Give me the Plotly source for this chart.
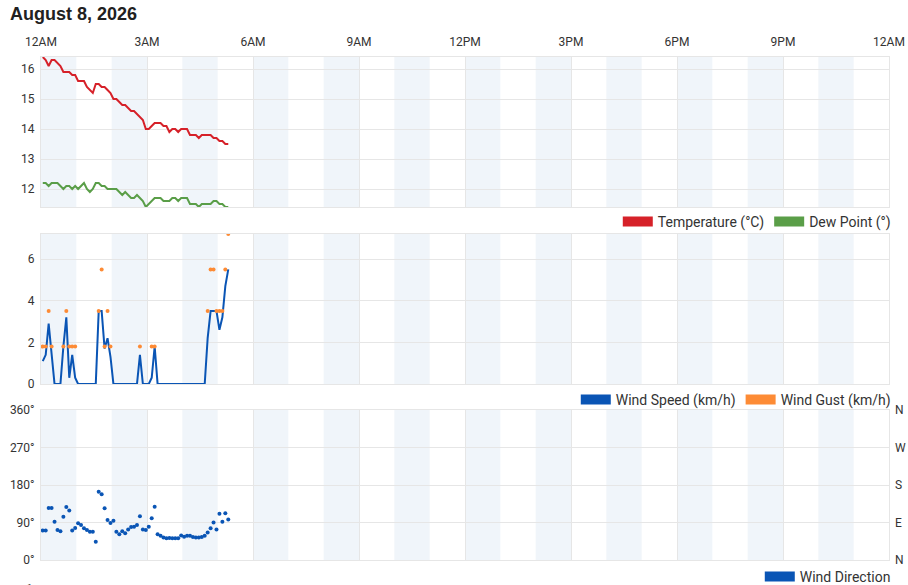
import plotly.graph_objects as go

# one day of station readings, every 5 minutes from 00:03
day = "2026-08-08"
times = ["00:03", "00:08", "00:13", "00:18", "00:23", "00:28", "00:33", "00:38", "00:43", "00:48", "00:53", "00:58",
         "01:03", "01:08", "01:13", "01:18", "01:23", "01:28", "01:33", "01:38", "01:43", "01:48", "01:53", "01:58",
         "02:03", "02:08", "02:13", "02:18", "02:23", "02:28", "02:33", "02:38", "02:43", "02:48", "02:53", "02:58",
         "03:03", "03:08", "03:13", "03:18", "03:23", "03:28", "03:33", "03:38", "03:43", "03:48", "03:53", "03:58",
         "04:03", "04:08", "04:13", "04:18", "04:23", "04:28", "04:33", "04:38", "04:43", "04:48", "04:53", "04:58",
         "05:03", "05:08", "05:13", "05:18"]

temperature = [16.4, 16.3, 16.1, 16.3, 16.3, 16.2, 16.1, 15.9, 15.9, 15.9,
               15.8, 15.8, 15.6, 15.6, 15.6, 15.4, 15.3, 15.2, 15.5, 15.5,
               15.4, 15.4, 15.3, 15.2, 15.0, 15.0, 14.9, 14.8, 14.8, 14.7,
               14.6, 14.6, 14.5, 14.4, 14.3, 14.0, 14.0, 14.1, 14.2, 14.2,
               14.2, 14.1, 14.1, 13.9, 14.0, 14.0, 13.9, 14.0, 14.0, 14.0,
               13.8, 13.8, 13.8, 13.7, 13.8, 13.8, 13.8, 13.8, 13.7, 13.7,
               13.6, 13.6, 13.5, 13.5]
dew_point = [12.2, 12.2, 12.1, 12.2, 12.2, 12.2, 12.1, 12.0, 12.1, 12.1,
             12.0, 12.1, 12.0, 12.1, 12.2, 12.0, 11.9, 12.0, 12.2, 12.2,
             12.1, 12.1, 12.0, 12.0, 12.0, 12.0, 11.9, 11.8, 11.9, 11.8,
             11.7, 11.7, 11.8, 11.7, 11.6, 11.4, 11.5, 11.6, 11.7, 11.7,
             11.7, 11.6, 11.6, 11.6, 11.7, 11.7, 11.6, 11.7, 11.7, 11.7,
             11.5, 11.5, 11.5, 11.4, 11.5, 11.5, 11.5, 11.5, 11.6, 11.6,
             11.5, 11.5, 11.4, 11.4]
wind_speed = [1.1, 1.4, 2.9, 1.5, 0, 0, 0, 1.8, 3.2, 0.3,
              1.4, 0.3, 0, 0, 0, 0, 0, 0, 0, 3.5,
              3.5, 1.7, 2.2, 1.3, 0, 0, 0, 0, 0, 0,
              0, 0, 0, 1.4, 0, 0, 0, 0.3, 1.8, 0,
              0, 0, 0, 0, 0, 0, 0, 0, 0, 0,
              0, 0, 0, 0, 0, 0, 2.2, 3.5, 3.5, 3.5,
              2.6, 3.2, 4.7, 5.5]
wind_gust = [1.8, 1.8, 3.5, 1.8, None, None, None, 1.8, 3.5, 1.8,
             1.8, 1.8, None, None, None, None, None, None, None, 3.5,
             5.5, 1.8, 3.5, 1.8, None, None, None, None, None, None,
             None, None, None, 1.8, None, None, None, 1.8, 1.8, None,
             None, None, None, None, None, None, None, None, None, None,
             None, None, None, None, None, None, 3.5, 5.5, 5.5, 3.5,
             3.5, 3.5, 5.5, 7.2]
wind_dir = [71, 71, 125, 125, 92, 72, 69, 104, 127, 119,
            71, 77, 88, 84, 76, 72, 68, 68, 44, 164,
            158, 124, 96, 89, 94, 68, 62, 69, 64, 73,
            79, 80, 84, 105, 73, 72, 80, 100, 128, 62,
            58, 54, 52, 53, 52, 52, 52, 59, 56, 58,
            58, 55, 54, 54, 55, 58, 66, 76, 90, 73,
            111, 92, 112, 97]

degree_vals = [0, 90, 180, 270, 360]
degree_text = ["0°", "90°", "180°", "270°", "360°"]
compass_text = ["N", "E", "S", "W", "N"]

RED = "#d62129"
GREEN = "#5a9e48"
BLUE = "#0a55b5"
ORANGE = "#fd8b35"
BAND = "#f0f5fa"
GRID = "#e6e6e6"

x = [f"{day} {t}" for t in times]

fig = go.Figure()
fig.add_trace(go.Scatter(x=x, y=temperature, mode="lines", line=dict(color=RED, width=2),
                         name="Temperature (°C)", showlegend=False, xaxis="x", yaxis="y"))
fig.add_trace(go.Scatter(x=x, y=dew_point, mode="lines", line=dict(color=GREEN, width=2),
                         name="Dew Point (°)", showlegend=False, xaxis="x", yaxis="y"))
fig.add_trace(go.Scatter(x=x, y=wind_speed, mode="lines", line=dict(color=BLUE, width=2),
                         name="Wind Speed (km/h)", showlegend=False, xaxis="x2", yaxis="y2"))
fig.add_trace(go.Scatter(x=x, y=wind_gust, mode="markers", marker=dict(color=ORANGE, size=4),
                         name="Wind Gust (km/h)", showlegend=False, xaxis="x2", yaxis="y2"))
fig.add_trace(go.Scatter(x=x, y=wind_dir, mode="markers", marker=dict(color=BLUE, size=4),
                         name="Wind Direction", showlegend=False, xaxis="x3", yaxis="y3"))
# empty trace on yaxis4 so the compass labels get drawn
fig.add_trace(go.Scatter(x=[None], y=[None], xaxis="x3", yaxis="y4", showlegend=False, hoverinfo="skip"))

# legend swatches (rectangles like the original)
for name, col, leg, xa, ya in [("Temperature (°C)", RED, "legend", "x", "y"),
                               ("Dew Point (°)", GREEN, "legend", "x", "y"),
                               ("Wind Speed (km/h)", BLUE, "legend2", "x2", "y2"),
                               ("Wind Gust (km/h)", ORANGE, "legend2", "x2", "y2"),
                               ("Wind Direction", BLUE, "legend3", "x3", "y3")]:
    fig.add_trace(go.Scatter(x=[None], y=[None], mode="lines", line=dict(color=col, width=10),
                             name=name, legend=leg, xaxis=xa, yaxis=ya, hoverinfo="skip"))

# alternate hour shading
shapes = []
for h in range(0, 24, 2):
    for yref in ["y domain", "y2 domain", "y3 domain"]:
        xr = yref.split()[0].replace("y", "x")
        shapes.append(dict(type="rect", xref=xr, yref=yref,
                           x0=f"{day} {h:02d}:00", x1=f"{day} {h + 1:02d}:00", y0=0, y1=1,
                           fillcolor=BAND, line=dict(width=0), layer="below"))

H = 585
def py(wy):
    return 1 - wy / H
def dom(top, bottom):
    return [py(bottom), py(top)]

xcommon = dict(type="date", range=[f"{day} 00:00", "2026-08-09 00:00"], dtick=3 * 3600 * 1000,
               showgrid=True, gridcolor=GRID, showline=True, linecolor=GRID, linewidth=1, mirror=True,
               zeroline=False, tickformat="%-I%p", ticks="", domain=[0, 1])
ycommon = dict(showgrid=True, gridcolor=GRID, showline=True, linecolor=GRID, mirror=True,
               zeroline=False, ticks="", tickfont=dict(size=12), ticklabelstandoff=3)

fig.update_layout(
    width=908, height=585,
    margin=dict(l=41, r=19, t=0, b=0, autoexpand=False),
    paper_bgcolor="white", plot_bgcolor="white",
    font=dict(family="Roboto", size=12, color="#333333"),
    title=dict(text="<b>August 8, 2026</b>", x=10 / 908, xref="container", xanchor="left",
               y=py(14), yref="container", yanchor="middle",
               font=dict(family="Liberation Sans", size=18, color="#212121")),
    xaxis=dict(xcommon, anchor="y", side="top", showticklabels=True, ticklabelstandoff=5),
    xaxis2=dict(xcommon, anchor="y2", matches="x", showticklabels=False),
    xaxis3=dict(xcommon, anchor="y3", matches="x", showticklabels=False),
    yaxis=dict(ycommon, domain=dom(57, 207), range=[11.4, 16.4], dtick=1),
    yaxis2=dict(ycommon, domain=dom(234, 384), range=[0, 7.2], dtick=2),
    yaxis3=dict(ycommon, domain=dom(410, 560), range=[0, 360], tickvals=degree_vals, ticktext=degree_text),
    yaxis4=dict(overlaying="y3", side="right", range=[0, 360], tickvals=degree_vals,
                ticktext=compass_text, showgrid=False, zeroline=False, showline=False,
                tickfont=dict(size=12), anchor="x3", ticklabelstandoff=5),
    shapes=shapes,
    legend=dict(orientation="h", x=1.008, xanchor="right", y=py(222), yanchor="middle",
                font=dict(size=14), bgcolor="rgba(0,0,0,0)"),
    legend2=dict(orientation="h", x=1.008, xanchor="right", y=py(400), yanchor="middle",
                 font=dict(size=14), bgcolor="rgba(0,0,0,0)"),
    legend3=dict(orientation="h", x=1.008, xanchor="right", y=py(577), yanchor="middle",
                 font=dict(size=14), bgcolor="rgba(0,0,0,0)"),
    annotations=[dict(text="1", xref="paper", yref="paper", x=-0.007, xanchor="right",
                      y=py(580), yanchor="top", showarrow=False, font=dict(size=12))],
)

# drop the page's default 8px body margin so the figure sits at the window's corner
fig.write_html("out.html", config={"displayModeBar": False},
               post_script="document.body.style.margin='0';")
